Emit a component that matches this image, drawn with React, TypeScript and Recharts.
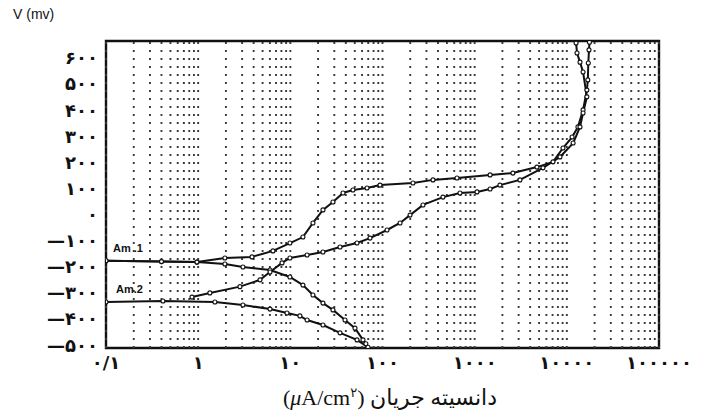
import React from "react";
import {
  LineChart,
  Line,
  XAxis,
  YAxis,
  ReferenceLine,
  ReferenceArea,
} from "recharts";

// Polarization curves (log current density vs potential).
const X_TICKS = [0.1, 1, 10, 100, 1000, 10000, 100000];
const X_TICK_LABELS = ["۰/۱", "۱", "۱۰", "۱۰۰", "۱۰۰۰", "۱۰۰۰۰", "۱۰۰۰۰۰"];
const Y_TICKS = [-500, -400, -300, -200, -100, 0, 100, 200, 300, 400, 500, 600];
const Y_TICK_LABELS = [
  "—۵۰۰", "—۴۰۰", "—۳۰۰", "—۲۰۰", "—۱۰۰", "۰",
  "۱۰۰", "۲۰۰", "۳۰۰", "۴۰۰", "۵۰۰", "۶۰۰",
];

// semi-log paper: dotted verticals at 1..9 of every decade
const DECADES = [0.1, 1, 10, 100, 1000, 10000];
const MINOR = [1, 2, 3, 4, 5, 6, 7, 8, 9];

// Am.1 anodic branch (rises to the plateau, then passivity breakdown)
const AM1_ANODIC_X = [
  0.1, 0.4, 0.97, 1.95, 3.84, 6.48, 9.9, 13.7, 17.6, 22.6, 29, 37.3, 47.8, 67.9,
  94, 214, 353, 643, 1470, 2600, 4740, 7080, 9080, 11400, 13200, 15000, 16500,
  16900, 17100, 17400, 17600,
];
const AM1_ANODIC_Y = [
  -177, -180, -182, -166, -162, -139, -109, -86, -32, 18, 48, 83, 94, 102, 113,
  121, 133, 140, 152, 159, 182, 202, 255, 297, 336, 401, 477, 516, 581, 631, 660,
];

// Am.1 cathodic branch
const AM1_CATH_X = [0.1, 0.4, 0.97, 1.95, 3.06, 6.02, 9.9, 13.7, 17.6, 22.6, 29, 39.2, 50.3, 61.4, 66];
const AM1_CATH_Y = [-177, -180, -182, -189, -201, -212, -239, -270, -308, -339, -365, -404, -435, -480, -495];

// Am.2 cathodic branch (with the flat start)
const AM2_CATH_X = [0.1, 0.415, 1.52, 3.06, 6.02, 9.2, 12.7, 15.2, 22.6, 34.6, 52.9, 69.6];
const AM2_CATH_Y = [-335, -331, -335, -346, -362, -377, -388, -404, -423, -453, -480, -508];

// Am.2 anodic branch
const AM2_ANODIC_X = [
  0.857, 1.34, 2.84, 4.69, 6.02, 8.12, 9.9, 15.2, 22.6, 34.6, 52.9, 73.2, 112,
  155, 199, 275, 453, 693, 1060, 1470, 1880, 3100, 5510, 8430, 11700, 13900,
  15000, 16500, 15000, 13900, 12900, 12600,
];
const AM2_ANODIC_Y = [
  -316, -300, -276, -250, -220, -185, -166, -155, -143, -124, -109, -90, -59,
  -32, -2, 37, 67, 83, 87, 98, 113, 133, 179, 221, 274, 336, 389, 451, 546,
  584, 619, 657,
];

const zip = (xs: number[], ys: number[]) => xs.map((x, i) => ({ x, y: ys[i] }));

const INK = "#111";
const GRID = "#3a3a3a";

const dot = { r: 2, fill: "#fff", stroke: INK, strokeWidth: 1.1 };
const tickStyle = {
  fontSize: 18,
  fontWeight: 700,
  fill: INK,
  letterSpacing: 5,
  fontFamily: "DejaVu Sans",
};

export default function App() {
  const series = [
    zip(AM1_ANODIC_X, AM1_ANODIC_Y),
    zip(AM1_CATH_X, AM1_CATH_Y),
    zip(AM2_CATH_X, AM2_CATH_Y),
    zip(AM2_ANODIC_X, AM2_ANODIC_Y),
  ];
  const gridXs = DECADES.flatMap((d) => MINOR.map((m) => d * m)).concat([100000]);

  return (
    <div
      style={{
        position: "absolute",
        left: 0,
        top: 0,
        width: 712,
        height: 419,
        background: "#fff",
        overflow: "hidden",
      }}
    >
      <LineChart
        width={712}
        height={419}
        margin={{ top: 41, right: 53, bottom: 41, left: 0 }}
      >
        <XAxis
          dataKey="x"
          type="number"
          scale="log"
          domain={[0.1, 100000]}
          ticks={X_TICKS}
          interval={0}
          allowDataOverflow
          height={30}
          tickFormatter={(v: number) => X_TICK_LABELS[X_TICKS.indexOf(v)] ?? ""}
          tick={tickStyle}
          tickLine={false}
          axisLine={false}
        />
        <YAxis
          dataKey="y"
          type="number"
          domain={[-511, 665]}
          ticks={Y_TICKS}
          interval={0}
          allowDataOverflow
          width={106}
          tickFormatter={(v: number) => Y_TICK_LABELS[Y_TICKS.indexOf(v)] ?? ""}
          tick={tickStyle}
          tickLine={false}
          axisLine={false}
        />
        {gridXs.map((gx) => (
          <ReferenceLine
            key={gx}
            x={gx}
            stroke={GRID}
            strokeWidth={1.9}
            strokeDasharray="1.9 6.1"
          />
        ))}
        <ReferenceArea
          x1={0.1}
          x2={100000}
          y1={-511}
          y2={665}
          fill="none"
          fillOpacity={0}
          stroke={INK}
          strokeWidth={2.4}
          ifOverflow="visible"
        />
        {series.map((d, i) => (
          <Line
            key={i}
            data={d}
            dataKey="y"
            type="linear"
            stroke={INK}
            strokeWidth={2}
            dot={dot}
            isAnimationActive={false}
          />
        ))}
      </LineChart>

      <div
        style={{
          position: "absolute",
          left: 13,
          top: 6,
          fontFamily: "Arial, 'Liberation Sans', sans-serif",
          fontSize: 14,
          color: INK,
        }}
      >
        V (mv)
      </div>
      <div
        style={{
          position: "absolute",
          left: 113,
          top: 242,
          fontFamily: "Arial, 'Liberation Sans', sans-serif",
          fontSize: 11,
          fontWeight: 700,
          color: INK,
          whiteSpace: "pre",
        }}
      >
        Am .1
      </div>
      <div
        style={{
          position: "absolute",
          left: 116,
          top: 283,
          fontFamily: "Arial, 'Liberation Sans', sans-serif",
          fontSize: 11,
          fontWeight: 700,
          color: INK,
        }}
      >
        Am.2
      </div>
      <div
        dir="rtl"
        style={{
          position: "absolute",
          left: 200,
          top: 385,
          width: 380,
          textAlign: "center",
          fontFamily: "'Liberation Serif', 'DejaVu Sans', serif",
          fontSize: 22,
          color: INK,
        }}
      >
        دانسیته جریان (<i>μ</i>A/cm<sup style={{ fontSize: 13 }}>۲</sup>)
      </div>
    </div>
  );
}
